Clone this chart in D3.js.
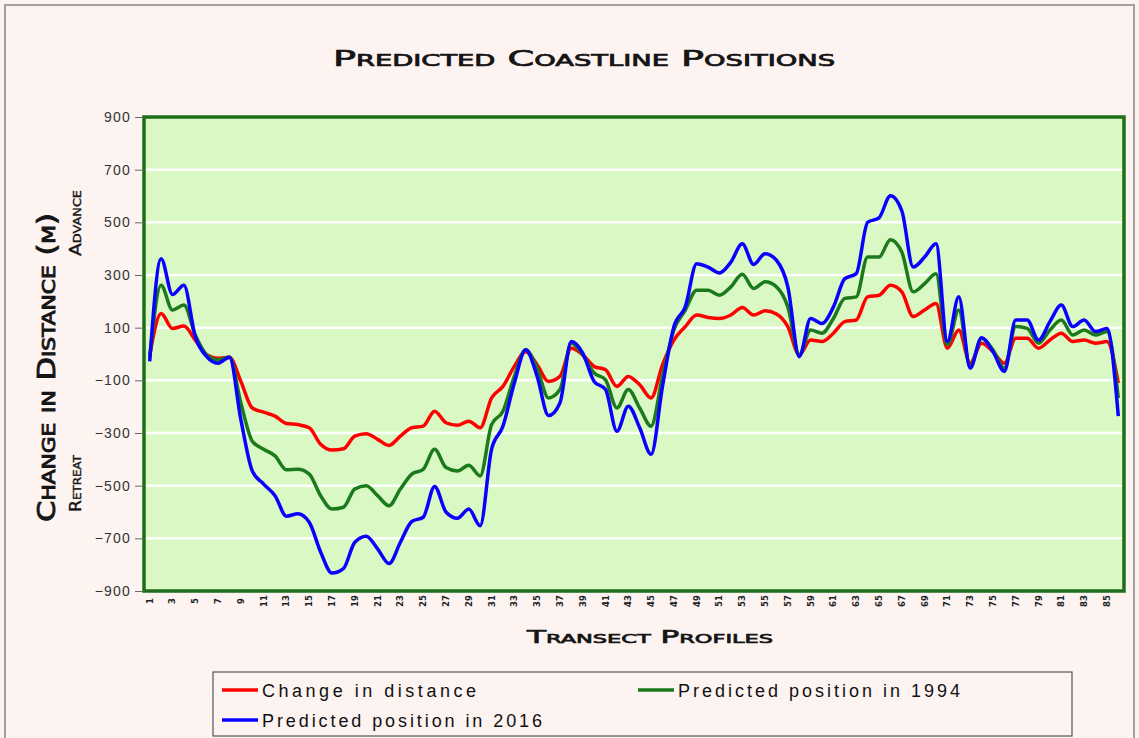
<!DOCTYPE html>
<html>
<head>
<meta charset="utf-8">
<script src="https://cdn.jsdelivr.net/npm/d3@7"></script>
<style>
  html, body { margin: 0; padding: 0; background: #fdf3f1; }
  svg { display: block; }
</style>
</head>
<body>
<div id="chart"></div>
<script>
// Data: transect profile numbers and the three series (metres)
const profiles = d3.range(1, 87);
const tickProfiles = [1, 3, 5, 7, 9, 11, 13, 15, 17, 19, 21, 23, 25, 27, 29, 31, 33, 35, 37, 39, 41,
  43, 45, 47, 49, 51, 53, 55, 57, 59, 61, 63, 65, 67, 69, 71, 73, 75, 77, 79, 81, 83, 85];
const yTicks = [900, 700, 500, 300, 100, -100, -300, -500, -700, -900];

const changeInDistance = [
  -5, 154, 97, 106, 53, -3, -16, -12, -104, -205,
  -221, -236, -264, -268, -280, -343, -365, -360, -312, -303,
  -324, -347, -312, -280, -274, -217, -261, -271, -255, -280,
  -167, -123, -47, 9, -41, -104, -85, 22, -3, -47,
  -60, -123, -85, -117, -167, -41, 53, 104, 148, 139,
  135, 148, 177, 148, 164, 152, 104, -3, 53, 47,
  79, 123, 129, 217, 223, 261, 236, 142, 167, 192,
  22, 91, -35, 41, 9, -35, 60, 60, 22, 53,
  79, 47, 53, 41, 47, -110
];
const predicted1994 = [
  -15, 261, 167, 186, 72, -3, -22, -12, -186, -331,
  -362, -387, -440, -438, -456, -538, -589, -582, -513, -500,
  -538, -576, -513, -456, -438, -362, -431, -444, -422, -463,
  -268, -217, -85, 16, -54, -167, -135, 41, -3, -72,
  -98, -205, -135, -205, -274, -85, 91, 167, 242, 242,
  223, 255, 303, 249, 274, 255, 179, -3, 91, 79,
  135, 211, 217, 368, 368, 434, 387, 236, 267, 305,
  35, 167, -47, 60, 16, -54, 104, 97, 41, 91,
  129, 72, 91, 72, 85, -167
];
const predicted2016 = [
  -28, 362, 226, 261, 66, -10, -35, -12, -249, -444,
  -494, -538, -616, -607, -639, -752, -832, -815, -715, -692,
  -740, -796, -715, -636, -620, -503, -600, -624, -589, -652,
  -362, -274, -110, 16, -85, -234, -186, 47, 3, -104,
  -135, -293, -198, -280, -381, -123, 104, 179, 343, 330,
  308, 349, 419, 340, 381, 356, 255, -10, 135, 116,
  179, 286, 305, 500, 517, 601, 544, 330, 368, 419,
  47, 217, -54, 62, 9, -66, 129, 129, 53, 123,
  186, 104, 129, 85, 97, -236
];

const series = [
  { name: "Change in distance", values: changeInDistance, color: "#ff0000" },
  { name: "Predicted position in 1994", values: predicted1994, color: "#1b7a1b" },
  { name: "Predicted position in 2016", values: predicted2016, color: "#0a00ff" }
];

const width = 1139;
const height = 738;
const plot = { left: 144, right: 1124, top: 117, bottom: 591 };

const svg = d3.select("#chart").append("svg")
  .attr("width", width)
  .attr("height", height);

// page + outer frame
svg.append("rect").attr("width", width).attr("height", height).attr("fill", "#fdf3f1");
svg.append("rect")
  .attr("x", 5).attr("y", 5).attr("width", 1129).attr("height", 760)
  .attr("fill", "none").attr("stroke", "#a59e9e").attr("stroke-width", 2);

const x = d3.scaleBand().domain(profiles).range([plot.left, plot.right]).padding(0);
const y = d3.scaleLinear().domain([-900, 900]).range([plot.bottom, plot.top]);
const cx = d => x(d) + x.bandwidth() / 2;

// plot area
svg.append("rect")
  .attr("x", plot.left).attr("y", plot.top)
  .attr("width", plot.right - plot.left).attr("height", plot.bottom - plot.top)
  .attr("fill", "#daf8c3");

svg.append("g")
  .selectAll("line")
  .data(yTicks.filter(t => t > -900 && t < 900))
  .join("line")
  .attr("x1", plot.left).attr("x2", plot.right)
  .attr("y1", d => y(d)).attr("y2", d => y(d))
  .attr("stroke", "#ffffff").attr("stroke-width", 2.5);

// lines
const line = d3.line()
  .x((d, i) => cx(profiles[i]))
  .y(d => y(d))
  .curve(d3.curveMonotoneX);

svg.append("g")
  .selectAll("path")
  .data(series)
  .join("path")
  .attr("fill", "none")
  .attr("stroke", d => d.color)
  .attr("stroke-width", 3.5)
  .attr("stroke-linejoin", "round")
  .attr("d", d => line(d.values));

svg.append("rect")
  .attr("x", plot.left).attr("y", plot.top)
  .attr("width", plot.right - plot.left).attr("height", plot.bottom - plot.top)
  .attr("fill", "none").attr("stroke", "#1e6e1a").attr("stroke-width", 3.5);

// y axis
const yAxis = svg.append("g")
  .attr("transform", `translate(${plot.left - 2},0)`)
  .call(d3.axisLeft(y).tickValues(yTicks).tickSize(7).tickPadding(4));
yAxis.select(".domain").remove();
yAxis.selectAll(".tick line").attr("stroke", "#666");
yAxis.selectAll(".tick text")
  .attr("font-family", "'Liberation Sans', sans-serif")
  .attr("font-size", 14)
  .attr("letter-spacing", 1.2)
  .attr("fill", "#333");

// x axis labels (rotated)
svg.append("g")
  .selectAll("text")
  .data(tickProfiles)
  .join("text")
  .attr("transform", d => `translate(${cx(d) + 3},601) rotate(-90)`)
  .attr("text-anchor", "middle")
  .attr("font-family", "'DejaVu Sans', sans-serif")
  .attr("font-weight", "bold")
  .attr("font-size", 8.5)
  .attr("fill", "#222")
  .text(d => d);

// titles: small caps, semi-heavy, stretched to the reference widths
const capsText = (sel) => sel
  .attr("font-family", "'DejaVu Sans', sans-serif")
  .attr("font-variant", "small-caps")
  .attr("fill", "#151515")
  .attr("stroke", "#151515")
  .attr("stroke-width", 0.7)
  .attr("lengthAdjust", "spacingAndGlyphs");

svg.append("text")
  .attr("x", 333).attr("y", 66)
  .attr("font-size", 21)
  .attr("textLength", 502)
  .call(capsText)
  .text("Predicted Coastline Positions");

svg.append("text")
  .attr("x", 527).attr("y", 643)
  .attr("font-size", 18)
  .attr("textLength", 246)
  .call(capsText)
  .text("Transect Profiles");

svg.append("text")
  .attr("transform", "translate(55,522) rotate(-90)")
  .attr("font-size", 24)
  .attr("textLength", 309)
  .call(capsText)
  .attr("stroke-width", 0.9)
  .text("Change in Distance (m)");

svg.append("text")
  .attr("transform", "translate(81,256) rotate(-90)")
  .attr("font-size", 16)
  .attr("textLength", 66)
  .call(capsText)
  .attr("stroke-width", 0.4)
  .text("Advance");

svg.append("text")
  .attr("transform", "translate(81,512) rotate(-90)")
  .attr("font-size", 16)
  .attr("textLength", 57)
  .call(capsText)
  .attr("stroke-width", 0.4)
  .text("Retreat");

// legend
const legend = svg.append("g");
legend.append("rect")
  .attr("x", 213).attr("y", 672).attr("width", 859).attr("height", 64)
  .attr("fill", "#fdf3f1").attr("stroke", "#555").attr("stroke-width", 1.2);

const legendPos = [
  { lx: 222, tx: 262, y: 690, len: 214 },
  { lx: 638, tx: 678, y: 690, len: 282 },
  { lx: 222, tx: 262, y: 720, len: 280 }
];

const items = legend.selectAll("g.item")
  .data(series)
  .join("g").attr("class", "item");

items.append("line")
  .attr("x1", (d, i) => legendPos[i].lx)
  .attr("x2", (d, i) => legendPos[i].lx + 36)
  .attr("y1", (d, i) => legendPos[i].y)
  .attr("y2", (d, i) => legendPos[i].y)
  .attr("stroke", d => d.color)
  .attr("stroke-width", 3.5);

items.append("text")
  .attr("x", (d, i) => legendPos[i].tx)
  .attr("y", (d, i) => legendPos[i].y + 7)
  .attr("font-family", "'Liberation Sans Narrow', 'Liberation Sans', sans-serif")
  .attr("font-size", 18)
  .attr("fill", "#111")
  .attr("textLength", (d, i) => legendPos[i].len)
  .attr("lengthAdjust", "spacing")
  .text(d => d.name);
</script>
</body>
</html>
